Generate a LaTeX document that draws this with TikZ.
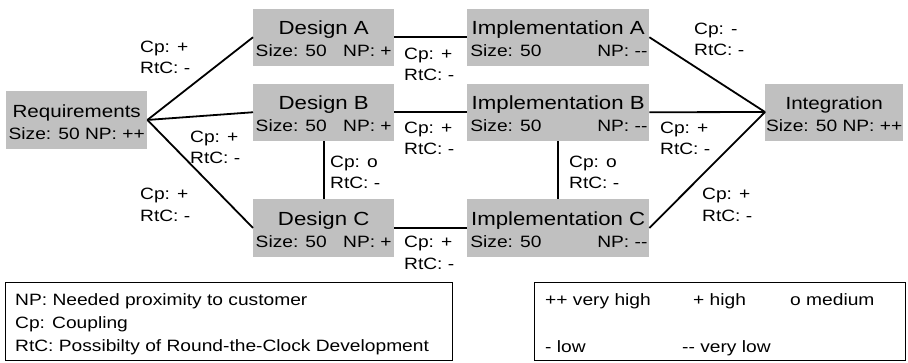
\documentclass[tikz,border=0pt]{standalone}
\usepackage{fontspec}
\setmainfont{Liberation Sans}[FakeStretch=1.17]
\usetikzlibrary{calc}
\definecolor{boxgray}{RGB}{192,192,192}
\newcommand\lbl[2]{\begin{tabular}[t]{@{}l@{}}#1\\#2\end{tabular}}
\tikzset{
  pbox/.style={fill=boxgray, draw=none, inner sep=0pt, anchor=north west},
  conn/.style={line width=1.8pt, black},
  lab/.style={anchor=base west, inner sep=0pt, font=\fontsize{16.4}{21.5}\selectfont},
  ttl/.style={anchor=base, inner sep=0pt, font=\fontsize{19}{22}\selectfont},
  ttls/.style={anchor=base, inner sep=0pt, font=\fontsize{17.6}{22}\selectfont},
  sub/.style={anchor=base, inner sep=0pt, font=\fontsize{16.4}{20}\selectfont},
  legbox/.style={draw=black, line width=1pt, fill=none},
  legtxt/.style={anchor=base west, inner sep=0pt, font=\fontsize{16.4}{20}\selectfont},
}
\begin{document}
\begin{tikzpicture}[x=1pt,y=-1pt]
\useasboundingbox (0,0) rectangle (908,362);

% boxes
\node[pbox, minimum width=141pt, minimum height=57.5pt] (req) at (6,91) {};
\node[pbox, minimum width=141pt, minimum height=57.5pt] (dA) at (253,8.3) {};
\node[pbox, minimum width=141pt, minimum height=57.5pt] (dB) at (253,83.3) {};
\node[pbox, minimum width=141pt, minimum height=57.5pt] (dC) at (253,199) {};
\node[pbox, minimum width=182pt, minimum height=57.5pt] (iA) at (467,8.3) {};
\node[pbox, minimum width=182pt, minimum height=57.5pt] (iB) at (467,83.3) {};
\node[pbox, minimum width=182pt, minimum height=57.5pt] (iC) at (467,199) {};
\node[pbox, minimum width=138pt, minimum height=57pt] (int) at (765,83.3) {};

% box texts
\node[ttls] (reqt) at ($(req.north)+(0,26.5)$) {Requirements};
\node[sub] (reqs) at ($(req.north)+(0,48.5)$) {Size: 50 NP: ++};
\node[ttls] (intt) at ($(int.north)+(0,26.5)$) {Integration};
\node[sub] (ints) at ($(int.north)+(0,48.5)$) {Size: 50 NP: ++};

\node[ttl] (dAt) at ($(dA.north)+(0,26.5)$) {Design A};
\node[sub] (dAs) at ($(dA.north)+(0,48.5)$) {\makebox[136pt]{Size: 50\hfill NP: +}};
\node[ttl] (dBt) at ($(dB.north)+(0,26.5)$) {Design B};
\node[sub] (dBs) at ($(dB.north)+(0,48.5)$) {\makebox[136pt]{Size: 50\hfill NP: +}};
\node[ttl] (dCt) at ($(dC.north)+(0,26.5)$) {Design C};
\node[sub] (dCs) at ($(dC.north)+(0,48.5)$) {\makebox[136pt]{Size: 50\hfill NP: +}};

\node[ttl] (iAt) at ($(iA.north)+(0,26.5)$) {Implementation A};
\node[sub] (iAs) at ($(iA.north)+(0.7,48.5)$) {\makebox[177pt]{Size: 50\hfill NP: -{}-}};
\node[ttl] (iBt) at ($(iB.north)+(0,26.5)$) {Implementation B};
\node[sub] (iBs) at ($(iB.north)+(0.7,48.5)$) {\makebox[177pt]{Size: 50\hfill NP: -{}-}};
\node[ttl] (iCt) at ($(iC.north)+(0,26.5)$) {Implementation C};
\node[sub] (iCs) at ($(iC.north)+(0.7,48.5)$) {\makebox[177pt]{Size: 50\hfill NP: -{}-}};

% connectors
\draw[conn] (req.east) -- (dA.west);
\draw[conn] (req.east) -- (dB.west);
\draw[conn] (req.east) -- (dC.west);
\draw[conn] (dA.east) -- (iA.west);
\draw[conn] (dB.east) -- (iB.west);
\draw[conn] (dC.east) -- (iC.west);
\draw[conn] (dB.south) -- (dC.north);
\draw[conn] (iB.south) -- (iC.north);
\draw[conn] (iA.east) -- (int.west);
\draw[conn] (iB.east) -- (int.west);
\draw[conn] (iC.east) -- (int.west);

% connector labels
\node[lab] (l1) at (140,52) {\lbl{Cp: +}{RtC: -}};
\node[lab] (l2) at (190,142) {\lbl{Cp: +}{RtC: -}};
\node[lab] (l3) at (140,199.5) {\lbl{Cp: +}{RtC: -}};
\node[lab] (l4) at (404,59) {\lbl{Cp: +}{RtC: -}};
\node[lab] (l5) at (404,133) {\lbl{Cp: +}{RtC: -}};
\node[lab] (l6) at (330,167) {\lbl{Cp: o}{RtC: -}};
\node[lab] (l7) at (404,247.5) {\lbl{Cp: +}{RtC: -}};
\node[lab] (l8) at (569,167) {\lbl{Cp: o}{RtC: -}};
\node[lab] (l9) at (694,34) {\lbl{Cp: -}{RtC: -}};
\node[lab] (l10) at (660,133) {\lbl{Cp: +}{RtC: -}};
\node[lab] (l11) at (702,199.5) {\lbl{Cp: +}{RtC: -}};

% legends
\draw[legbox] (5,282) rectangle (452,360.5);
\node[legtxt] (g1) at (15,305) {NP: Needed proximity to customer};
\node[legtxt] (g2) at (15,328) {Cp: Coupling};
\node[legtxt] (g3) at (15,351) {RtC: Possibilty of Round-the-Clock Development};

\draw[legbox] (534,282) rectangle (905,360.5);
\node[legtxt] (h1) at (545,305.5) {++ very high};
\node[legtxt] (h2) at (693,305.5) {+ high};
\node[legtxt] (h3) at (790,305.5) {o medium};
\node[legtxt] (h4) at (545,352) {- low};
\node[legtxt] (h5) at (682,352) {-{}- very low};
\end{tikzpicture}
\end{document}
